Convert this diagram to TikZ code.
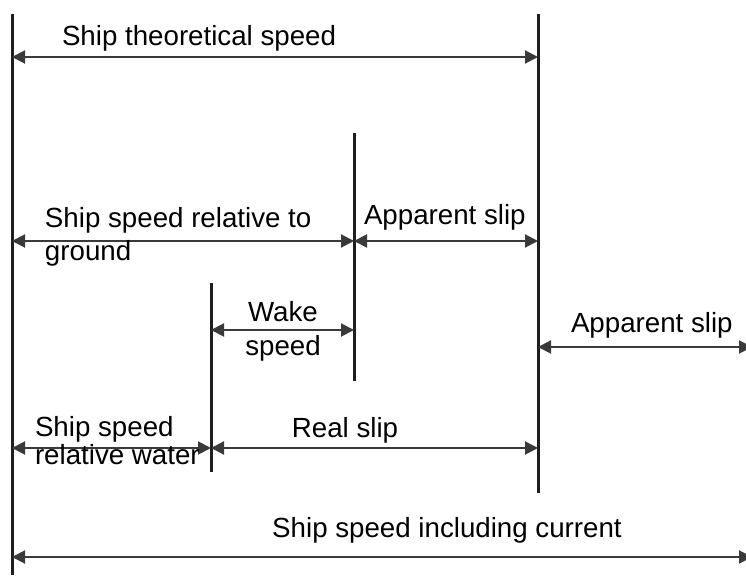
\documentclass[tikz,border=0pt]{standalone}
\usepackage{fontspec}
\setmainfont{Liberation Sans}
\usetikzlibrary{arrows.meta}
\definecolor{linecol}{HTML}{1E1E1E}
\definecolor{dimcol}{HTML}{3A3A3A}
\tikzset{
  bar/.style={draw=linecol, line width=1.5pt},
  dimline/.style={draw=dimcol, line width=1pt, {Triangle[length=6.5pt,width=6.5pt]}-{Triangle[length=6.5pt,width=6.5pt]}},
  lbl/.style={inner sep=0pt, outer sep=0pt, text=black, font=\fontsize{13.85}{16.5}\selectfont}
}
\begin{document}
\begin{tikzpicture}[x=0.5pt,y=-0.5pt]
\useasboundingbox (0,0) rectangle (746,576);
% vertical reference lines
\coordinate (L1) at (12,14);   \coordinate (L2) at (12,575);
\coordinate (R1) at (538,14);  \coordinate (R2) at (538,493);
\coordinate (M1) at (354,133); \coordinate (M2) at (354,381);
\coordinate (W1) at (211,283); \coordinate (W2) at (211,472);
\draw[bar] (L1) -- (L2);
\draw[bar] (R1) -- (R2);
\draw[bar] (M1) -- (M2);
\draw[bar] (W1) -- (W2);
% arrow end points
\coordinate (a1) at (12,57);   \coordinate (a2) at (538,57);
\coordinate (b1) at (12,241);  \coordinate (b2) at (354,241); \coordinate (b3) at (538,241);
\coordinate (c1) at (211,330); \coordinate (c2) at (354,330);
\coordinate (d1) at (538,347); \coordinate (d2) at (752,347);
\coordinate (e1) at (12,448);  \coordinate (e2) at (211,448); \coordinate (e3) at (538,448);
\coordinate (f1) at (12,557);  \coordinate (f2) at (752,557);
\draw[dimline] (a1) -- (a2);
\draw[dimline] (b1) -- (b2);
\draw[dimline] (b2) -- (b3);
\draw[dimline] (c1) -- (c2);
\draw[dimline] (d1) -- (d2);
\draw[dimline] (e1) -- (e2);
\draw[dimline] (e2) -- (e3);
\draw[dimline] (f1) -- (f2);
% labels
\node[lbl, anchor=base west] (t1) at (62,46) {Ship theoretical speed};
\node[lbl, anchor=base west, align=left] (t2) at (45,261) {Ship speed relative to\\ground};
\node[lbl, anchor=base west] (t3) at (364,225) {Apparent slip};
\node[lbl, anchor=base] (t4) at (283,322) {Wake};
\node[lbl, anchor=base] (t5) at (283,356) {speed};
\node[lbl, anchor=base west] (t6) at (571,333) {Apparent slip};
\node[lbl, anchor=base west, align=left, font=\fontsize{13.85}{14}\selectfont] (t7) at (35,465) {Ship speed\\relative water};
\node[lbl, anchor=base] (t8) at (345,438) {Real slip};
\node[lbl, anchor=base] (t9) at (447,538) {Ship speed including current};
\end{tikzpicture}
\end{document}
